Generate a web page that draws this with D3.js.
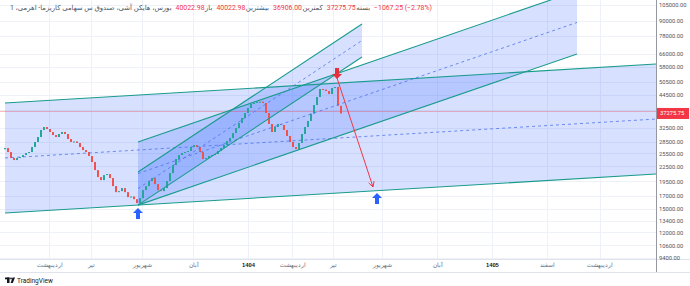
<!DOCTYPE html>
<html>
<head>
<meta charset="utf-8">
<script src="https://cdn.jsdelivr.net/npm/d3@7"></script>
<style>
  body { margin: 0; background: #fff; }
  svg { display: block; font-family: Roboto, "DejaVu Sans", sans-serif; }
</style>
</head>
<body>
<svg id="chart" width="690" height="286"></svg>
<script>
/* ---------------- data ---------------- */

// heikin ashi closes, one every bar (bar index = position in the array)
const closes = [26810, 25810, 24380, 23910, 24380, 24610, 25080, 25570, 25810, 27070,
  28400, 29780, 31840, 32760, 32140, 31240, 30350, 29780, 30650, 31240,
  30650, 29220, 28400, 28550, 28130, 27070, 26300, 25810, 24850, 23470,
  21730, 20330, 19750, 20720, 20920, 20140, 18660, 17610, 17780, 18300,
  17610, 16790, 16900, 16470, 15860, 16630, 17950, 18660, 19570, 20140,
  19020, 17950, 17780, 18300, 19570, 21120, 22790, 24150, 25080, 25570,
  25810, 26060, 27070, 27590, 27070, 25810, 24150, 24380, 24850, 25080,
  25320, 26060, 26810, 27590, 28670, 29500, 30940, 32450, 34040, 35700,
  37440, 39270, 40800, 41190, 41580, 41700, 41190, 37440, 33720, 31240,
  32760, 33720, 33400, 31840, 30070, 28400, 27070, 26560, 28130, 30650,
  32760, 34700, 37200, 40400, 43610, 47060, 46800, 46170, 44870, 47510,
  47970, 40100, 37275.75];
const firstOpen = 26500;
const lastPrice = 37275.75;

const priceTicks = [105000, 90000, 78000, 66000, 58000, 50500, 44500, 38500, 32500,
  28500, 25500, 22500, 19500, 17000, 15000, 13400, 12000, 10600, 9400];

const timeTicks = [14.7, 28.7, 45.7, 62.7, 81, 95.7, 109.3, 125.7, 144, 162.3, 180.7, 198.3];
const timeLabels = ["اردیبهشت", "تیر", "شهریور", "آبان", "1404", "اردیبهشت", "تیر",
  "شهریور", "آبان", "1405", "اسفند", "اردیبهشت"];

// drawings: [bar, price] points; channel = lower start, lower end, upper price at start
const bigChannel = [[0, 14440], [217, 20930], 41190];
const midChannel = [[44.33, 15560], [190.67, 65700], 28400];
const steepChannel = [[44.33, 15560], [119, 63850], 21330];
const targetArrow = [[110.67, 52270], [122.67, 18500]];
const upArrows = [[44.33, 15140], [124, 17470]];
const downArrows = [[110.67, 51770]];

const titleText = "بورس، هایکن آشی، صندوق س سهامی کاریزما- اهرمی، 1";
const ohlcLabels = ["باز", "بیشترین", "کمترین", "بسته"];
const ohlcValues = ["40022.98", "40022.98", "36906.00", "37275.75"];
const changeText = "−1067.25 (−2.78%)";

/* ---------------- chart ---------------- */
const plotR = 656, plotB = 259;
const up = "#26a69a", down = "#ef5350", teal = "#1a9b8c";

const svg = d3.select("#chart");
const x = d3.scaleLinear().domain([0, 217]).range([5, 656]);
const y = d3.scaleLog().domain([9400, 90000]).range([258, 21]);

svg.append("defs").append("clipPath").attr("id", "clip")
  .append("rect").attr("width", plotR).attr("height", plotB);

const plot = svg.append("g").attr("clip-path", "url(#clip)");

// grid
plot.selectAll(".hg").data(priceTicks).join("line")
  .attr("x1", 0).attr("x2", plotR)
  .attr("y1", d => Math.round(y(d)) + 0.5).attr("y2", d => Math.round(y(d)) + 0.5)
  .attr("stroke", "#eef1f7");
plot.selectAll(".vg").data(timeTicks).join("line")
  .attr("x1", d => Math.round(x(d)) + 0.5).attr("x2", d => Math.round(x(d)) + 0.5)
  .attr("y1", 0).attr("y2", plotB)
  .attr("stroke", "#eef1f7");

const fills = plot.append("g");

// current price line
plot.append("line")
  .attr("x1", 0).attr("x2", plotR)
  .attr("y1", y(lastPrice) - 2).attr("y2", y(lastPrice) - 2)
  .attr("stroke", "#f23645").attr("stroke-opacity", 0.35);

const candles = plot.append("g");
const lines = plot.append("g");

function drawChannel(ch) {
  const [t1, p1] = ch[0], [t2, p2] = ch[1], k = ch[2] / p1;
  const lo = [[x(t1), y(p1)], [x(t2), y(p2)]];
  const hi = [[x(t1), y(p1 * k)], [x(t2), y(p2 * k)]];
  const md = [[x(t1), y(p1 * Math.sqrt(k))], [x(t2), y(p2 * Math.sqrt(k))]];
  fills.append("path")
    .attr("d", d3.line()([lo[0], lo[1], hi[1], hi[0]]) + "Z")
    .attr("fill", "rgba(41,98,255,0.19)");
  [lo, hi].forEach(l => lines.append("path").attr("d", d3.line()(l))
    .attr("stroke", teal).attr("stroke-width", 1.1).attr("fill", "none"));
  lines.append("path").attr("d", d3.line()(md))
    .attr("stroke", "#4f72ee").attr("stroke-width", 0.8)
    .attr("stroke-dasharray", "3,3").attr("fill", "none");
}
drawChannel(bigChannel);
drawChannel(midChannel);
drawChannel(steepChannel);

// candles
const openOf = i => i ? closes[i - 1] : firstOpen;
candles.selectAll("rect").data(closes).join("rect")
  .attr("x", (d, i) => x(i) - 1)
  .attr("width", 2)
  .attr("y", (d, i) => y(Math.max(d, openOf(i))))
  .attr("height", (d, i) => Math.max(1, Math.abs(y(d) - y(openOf(i)))))
  .attr("fill", (d, i) => d >= openOf(i) ? up : down);

// red target arrow
const a0 = [x(targetArrow[0][0]), y(targetArrow[0][1])];
const a1 = [x(targetArrow[1][0]), y(targetArrow[1][1])];
lines.append("path").attr("d", d3.line()([a0, a1]))
  .attr("stroke", "#f23645").attr("stroke-width", 1).attr("fill", "none");
const ang = Math.atan2(a1[1] - a0[1], a1[0] - a0[0]);
const head = [-0.5, 0.5].map(o => [a1[0] - 6 * Math.cos(ang + o), a1[1] - 6 * Math.sin(ang + o)]);
lines.append("path").attr("d", d3.line()([head[0], a1, head[1]]))
  .attr("stroke", "#f23645").attr("stroke-width", 1).attr("fill", "none");

// markers
function arrowShape(cx, tip, s) {
  // s 1 = pointing up (tip at top), -1 = pointing down
  return d3.line()([[cx, tip], [cx + 5, tip + 5 * s], [cx + 2, tip + 5 * s], [cx + 2, tip + 11 * s],
    [cx - 2, tip + 11 * s], [cx - 2, tip + 5 * s], [cx - 5, tip + 5 * s]]) + "Z";
}
lines.selectAll(".ua").data(upArrows).join("path")
  .attr("d", d => arrowShape(x(d[0]), y(d[1]), 1)).attr("fill", "#2962ff");
lines.selectAll(".da").data(downArrows).join("path")
  .attr("d", d => arrowShape(x(d[0]), y(d[1]), -1)).attr("fill", "#e8303d");

/* ---------------- axes ---------------- */
svg.append("line").attr("x1", 0).attr("x2", 690).attr("y1", plotB + 0.5).attr("y2", plotB + 0.5)
  .attr("stroke", "#e0e3eb");
svg.append("line").attr("x1", 0).attr("x2", 690).attr("y1", 272.5).attr("y2", 272.5)
  .attr("stroke", "#e0e3eb");
svg.append("line").attr("x1", plotR + 0.5).attr("x2", plotR + 0.5).attr("y1", 0).attr("y2", 272)
  .attr("stroke", "#9598a1");

// 38500 sits under the last price tag, so its label is left out
const yAxis = d3.axisRight(y).tickValues(priceTicks.filter(d => d !== 38500))
  .tickFormat(d3.format(".2f")).tickSize(0).tickPadding(3);
svg.append("g").attr("transform", `translate(${plotR},0)`).call(yAxis)
  .call(g => g.select(".domain").remove())
  .call(g => g.selectAll("text").attr("font-size", 5.8).attr("fill", "#50535e")
    .attr("font-family", "Roboto, sans-serif"));

// last price label
const ly = y(lastPrice);
svg.append("rect").attr("x", plotR + 1).attr("y", ly - 5.5).attr("width", 32).attr("height", 11)
  .attr("fill", "#f23645");
svg.append("text").attr("x", plotR + 4).attr("y", ly + 2).attr("font-size", 5.8)
  .attr("fill", "#fff").text(d3.format(".2f")(lastPrice));

const xAxis = d3.axisBottom(x).tickValues(timeTicks).tickFormat((d, i) => timeLabels[i]).tickSize(0).tickPadding(4);
svg.append("g").attr("transform", `translate(0,${plotB})`).call(xAxis)
  .call(g => g.select(".domain").remove())
  .call(g => g.selectAll("text").attr("font-size", 5.8)
    .attr("fill", (d, i) => /^\d+$/.test(timeLabels[i]) ? "#131722" : "#6a6d78")
    .attr("font-weight", (d, i) => /^\d+$/.test(timeLabels[i]) ? "bold" : null));

/* ---------------- legend ---------------- */
const legend = svg.append("g").attr("font-size", 6.9);
let cx = 10;
function put(str, color, gap) {
  const t = legend.append("text").attr("x", cx).attr("y", 10).attr("fill", color).text(str);
  cx += t.node().getComputedTextLength() + gap;
}
put(titleText, "#50535e", 4);
ohlcValues.forEach((v, i) => {
  put(v, "#f23645", 0.5);
  put(ohlcLabels[i], "#50535e", 4);
});
put(changeText, "#f23645", 0);

// TradingView mark
const logo = svg.append("g").attr("fill", "#131722");
logo.append("rect").attr("x", 5).attr("y", 277.5).attr("width", 4.5).attr("height", 1.8);
logo.append("rect").attr("x", 7).attr("y", 277.5).attr("width", 2.5).attr("height", 5.5);
logo.append("circle").attr("cx", 11).attr("cy", 278.4).attr("r", 0.9);
logo.append("path").attr("d", "M12.5,277.5 L15,277.5 L12.8,283 L10.6,283 Z");
svg.append("text").attr("x", 17).attr("y", 282.5).attr("font-size", 6.5)
  .attr("fill", "#131722").text("TradingView");
</script>
</body>
</html>
